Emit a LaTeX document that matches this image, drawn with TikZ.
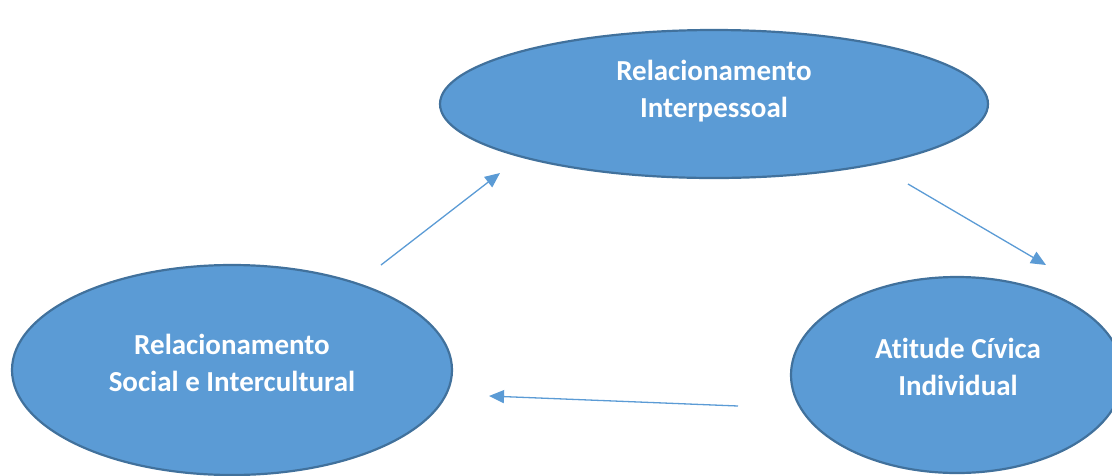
\documentclass[tikz,border=0pt]{standalone}
\usepackage{fontspec}
\setmainfont{Carlito}[Ligatures={NoCommon}]
\usetikzlibrary{arrows.meta,shapes.geometric}
\definecolor{fillblue}{HTML}{5B9BD5}
\definecolor{edgeblue}{HTML}{41719C}
\definecolor{arrowblue}{HTML}{5B9BD5}
\tikzset{
  oval/.style={ellipse, draw=edgeblue, fill=fillblue, line width=2.2pt, inner sep=0pt},
  ovaltext/.style={text=white, font=\fontsize{29}{37.5}\selectfont\bfseries, align=center, inner sep=0pt},
  link/.style={draw=arrowblue, line width=1.3pt, -{Triangle[length=15pt,width=13pt]}}
}
\begin{document}
\begin{tikzpicture}[x=1pt,y=-1pt]
\useasboundingbox (0,0) rectangle (1112,475);
\node[oval, minimum width=548pt, minimum height=148pt] (top) at (714,104) {};
\node[oval, minimum width=440pt, minimum height=210pt] (left) at (232,370) {};
\node[oval, minimum width=332pt, minimum height=196pt] (right) at (957,375) {};
\node[ovaltext] (toptext) at (714,91) {Relacionamento\\Interpessoal};
\node[ovaltext] (lefttext) at (232,363) {Relacionamento\\Social e Intercultural};
\node[ovaltext] (righttext) at (958,367) {Atitude Cívica\\Individual};
\coordinate (a1s) at (381,265);
\coordinate (a1e) at (500,173);
\coordinate (a2s) at (908,184);
\coordinate (a2e) at (1046,265);
\coordinate (a3s) at (738,406);
\coordinate (a3e) at (489,396);
\draw[link] (a1s) -- (a1e);
\draw[link] (a2s) -- (a2e);
\draw[link] (a3s) -- (a3e);
\end{tikzpicture}
\end{document}
